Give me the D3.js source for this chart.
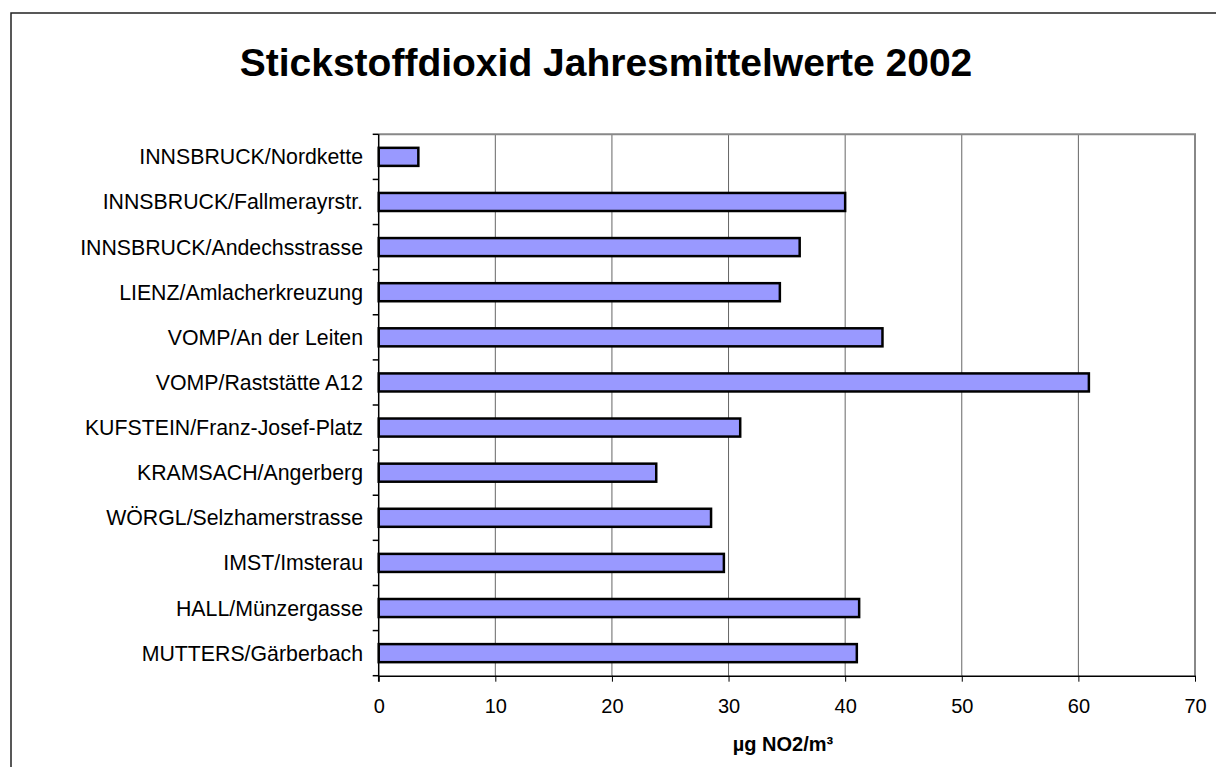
<!DOCTYPE html>
<html><head><meta charset="utf-8">
<script src="https://cdn.jsdelivr.net/npm/d3@7"></script>
<style>html,body{margin:0;padding:0;background:#fff;overflow:hidden}</style>
</head><body>
<svg id="c" width="1216" height="767"></svg>
<script>
const titleText = "Stickstoffdioxid Jahresmittelwerte 2002";
const axisTitle = "µg NO2/m³";
const categories = [
  "INNSBRUCK/Nordkette",
  "INNSBRUCK/Fallmerayrstr.",
  "INNSBRUCK/Andechsstrasse",
  "LIENZ/Amlacherkreuzung",
  "VOMP/An der Leiten",
  "VOMP/Raststätte A12",
  "KUFSTEIN/Franz-Josef-Platz",
  "KRAMSACH/Angerberg",
  "WÖRGL/Selzhamerstrasse",
  "IMST/Imsterau",
  "HALL/Münzergasse",
  "MUTTERS/Gärberbach"
];
const values = [3.4, 40.0, 36.1, 34.4, 43.2, 60.9, 31.0, 23.8, 28.5, 29.6, 41.2, 41.0];
const xTicks = [0, 10, 20, 30, 40, 50, 60, 70];

const svg = d3.select("#c");
const font = "'Liberation Sans', Arial, sans-serif";
const L = 378.7, R = 1195, T = 134.3, B = 675.7;

// outer frame
svg.append("rect").attr("x", 11).attr("y", 13).attr("width", 1300).attr("height", 900)
  .attr("fill", "none").attr("stroke", "#222").attr("stroke-width", 1.5);

const x = d3.scaleLinear().domain([0, 70]).range([L, R]);
const y = d3.scaleBand().domain(categories).range([T, B]);

// gridlines
svg.append("g").selectAll("line").data(xTicks.slice(1, -1)).join("line")
  .attr("x1", d => x(d)).attr("x2", d => x(d)).attr("y1", T).attr("y2", B)
  .attr("stroke", "#666").attr("stroke-width", 1);

// top & right border
svg.append("path").attr("d", `M${L},${T}H${R}V${B}`).attr("fill", "none")
  .attr("stroke", "#888").attr("stroke-width", 2);

// bars
const bh = y.bandwidth() * 0.4;
svg.append("g").selectAll("rect").data(values).join("rect")
  .attr("x", x(0)).attr("y", (d, i) => y(categories[i]) + y.bandwidth() / 2 - bh / 2)
  .attr("width", d => x(d) - x(0)).attr("height", bh)
  .attr("fill", "#9999ff").attr("stroke", "#000").attr("stroke-width", 2.5);

// x axis
const xa = svg.append("g").attr("transform", `translate(0,${B})`)
  .call(d3.axisBottom(x).tickValues(xTicks).tickSize(6).tickPadding(17).tickSizeOuter(0));
xa.select(".domain").attr("stroke", "#000").attr("stroke-width", 1.5);
xa.selectAll(".tick line").attr("stroke", "#000").attr("stroke-width", 1);
xa.selectAll("text").attr("font-family", font).attr("font-size", 20).attr("fill", "#000");

// y axis
svg.append("line").attr("x1", L).attr("x2", L).attr("y1", T).attr("y2", B + 6)
  .attr("stroke", "#000").attr("stroke-width", 1.5);
const bounds = categories.map(c => y(c)).concat([B]);
svg.append("g").selectAll("line").data(bounds).join("line")
  .attr("x1", L - 6).attr("x2", L).attr("y1", d => d).attr("y2", d => d)
  .attr("stroke", "#000").attr("stroke-width", 1.5);
svg.append("g").selectAll("text").data(categories).join("text")
  .attr("x", 363).attr("y", d => y(d) + y.bandwidth() / 2 + 7.5)
  .attr("text-anchor", "end").attr("font-family", font).attr("font-size", 21.3)
  .attr("fill", "#000").text(d => d);

// titles
svg.append("text").attr("x", 606).attr("y", 76).attr("text-anchor", "middle")
  .attr("font-family", font).attr("font-size", 39).attr("font-weight", "bold").text(titleText);
svg.append("text").attr("x", 783).attr("y", 751).attr("text-anchor", "middle")
  .attr("font-family", font).attr("font-size", 20).attr("font-weight", "bold").text(axisTitle);
</script>
</body></html>
